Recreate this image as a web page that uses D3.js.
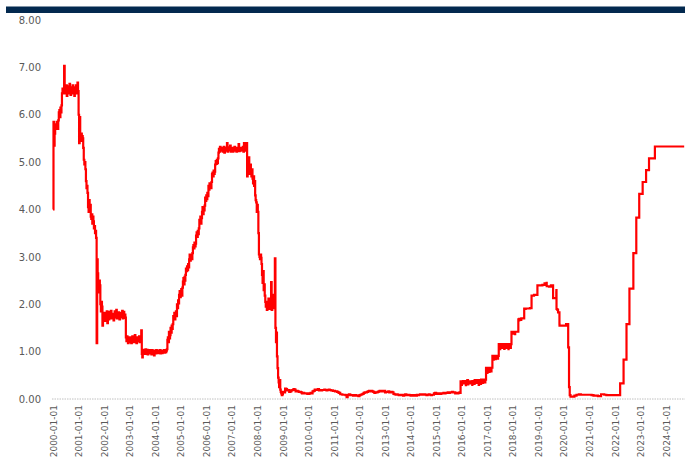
<!DOCTYPE html>
<html>
<head>
<meta charset="utf-8">
<script src="https://cdn.jsdelivr.net/npm/d3@7"></script>
<style>
  html, body { margin: 0; padding: 0; background: #ffffff; }
  svg { display: block; }
</style>
</head>
<body>
<svg id="chart" width="685" height="457"></svg>
<script>
// Effective federal funds rate (%), 2000 – 2024

const yTickValues = [0, 1, 2, 3, 4, 5, 6, 7, 8];
const xTickLabels = [
  "2000-01-01", "2001-01-01", "2002-01-01", "2003-01-01", "2004-01-01",
  "2005-01-01", "2006-01-01", "2007-01-01", "2008-01-01", "2009-01-01",
  "2010-01-01", "2011-01-01", "2012-01-01", "2013-01-01", "2014-01-01",
  "2015-01-01", "2016-01-01", "2017-01-01", "2018-01-01", "2019-01-01",
  "2020-01-01", "2021-01-01", "2022-01-01", "2023-01-01", "2024-01-01"
];

// Weekly readings (days 1, 8, 16, 24 of each month), 2000 – 2008
const weekDays = [1, 8, 16, 24];
const rates2000 = [
  4.00, 5.85, 5.35, 5.60,  5.70, 5.80, 5.72, 5.85,  5.78, 5.70, 5.88, 6.05,
  6.10, 5.95, 6.15, 6.05,  6.20, 6.45, 6.55, 6.50,  6.55, 7.03, 6.45, 6.60,
  6.50, 6.62, 6.40, 6.55,  6.48, 6.60, 6.45, 6.65,  6.50, 6.42, 6.58, 6.52,
  6.45, 6.62, 6.50, 6.55,  6.40, 6.58, 6.52, 6.62,  6.45, 6.55, 6.68, 6.50
];
const rates2001 = [
  6.00, 5.40, 5.95, 5.55,  5.50, 5.60, 5.45, 5.55,  5.50, 5.30, 5.05, 4.95,
  5.00, 4.85, 4.60, 4.45,  4.50, 4.35, 4.05, 3.95,  4.20, 3.95, 4.10, 3.85,
  3.80, 3.90, 3.70, 3.85,  3.75, 3.60, 3.65, 3.50,  3.55, 3.40, 1.18, 2.95,
  2.65, 2.45, 2.25, 2.50,  2.40, 2.00, 1.85, 2.05,  1.95, 1.55, 1.80, 1.70
];
const rates2002 = [
  1.70, 1.82, 1.65, 1.78,  1.74, 1.85, 1.60, 1.76,  1.80, 1.68, 1.84, 1.72,
  1.75, 1.86, 1.70, 1.78,  1.72, 1.80, 1.66, 1.77,  1.85, 1.72, 1.78, 1.88,
  1.70, 1.80, 1.74, 1.83,  1.75, 1.68, 1.82, 1.74,  1.80, 1.73, 1.86, 1.70,
  1.76, 1.84, 1.71, 1.78,  1.72, 1.30, 1.22, 1.32,  1.25, 1.18, 1.30, 1.22
];
const rates2003 = [
  1.30, 1.20, 1.28, 1.18,  1.26, 1.32, 1.22, 1.30,  1.20, 1.28, 1.35, 1.22,
  1.26, 1.18, 1.30, 1.24,  1.28, 1.22, 1.32, 1.20,  1.25, 1.30, 1.45, 0.95,
  0.88, 1.02, 0.95, 1.04,  1.02, 0.95, 1.05, 0.97,  1.00, 1.04, 0.94, 1.02,
  0.98, 1.03, 0.96, 1.01,  1.00, 0.94, 1.03, 0.99,  0.97, 1.02, 0.92, 1.00
];
const rates2004 = [
  1.00, 0.96, 1.03, 0.98,  1.01, 0.97, 1.02, 0.99,  0.98, 1.03, 0.96, 1.00,
  1.02, 0.97, 1.01, 0.99,  1.00, 1.03, 0.98, 1.02,  0.99, 1.02, 1.05, 1.25,
  1.30, 1.20, 1.42, 1.28,  1.35, 1.50, 1.40, 1.55,  1.48, 1.58, 1.75, 1.70,
  1.82, 1.68, 1.78, 1.85,  1.75, 2.00, 1.92, 2.08,  2.02, 2.20, 2.28, 2.15
];
const rates2005 = [
  2.25, 2.32, 2.18, 2.35,  2.48, 2.55, 2.42, 2.58,  2.50, 2.62, 2.75, 2.70,
  2.80, 2.72, 2.85, 2.78,  2.95, 3.05, 2.92, 3.02,  3.00, 2.95, 3.08, 3.20,
  3.25, 3.18, 3.30, 3.22,  3.28, 3.45, 3.52, 3.42,  3.55, 3.48, 3.60, 3.78,
  3.75, 3.85, 3.70, 3.82,  3.95, 4.05, 3.90, 4.02,  3.98, 4.08, 4.25, 4.18
];
const rates2006 = [
  4.30, 4.22, 4.35, 4.28,  4.50, 4.42, 4.55, 4.48,  4.52, 4.45, 4.58, 4.75,
  4.78, 4.70, 4.82, 4.75,  4.80, 4.95, 5.02, 4.96,  5.05, 4.98, 5.08, 5.20,
  5.28, 5.22, 5.32, 5.25,  5.30, 5.24, 5.28, 5.22,  5.26, 5.32, 5.20, 5.28,
  5.24, 5.30, 5.26, 5.40,  5.22, 5.28, 5.25, 5.31,  5.27, 5.35, 5.22, 5.29
];
const rates2007 = [
  5.25, 5.30, 5.22, 5.28,  5.26, 5.32, 5.24, 5.27,  5.30, 5.22, 5.28, 5.25,
  5.27, 5.38, 5.23, 5.29,  5.24, 5.30, 5.26, 5.28,  5.25, 5.32, 5.22, 5.40,
  5.26, 5.29, 5.24, 5.30,  5.40, 4.70, 5.05, 4.95,  5.10, 4.85, 4.75, 4.95,
  4.80, 4.70, 4.85, 4.65,  4.55, 4.70, 4.50, 4.60,  4.30, 4.20, 4.15, 3.95
];
const rates2008 = [
  4.10, 3.95, 3.50, 3.05,  3.00, 2.95, 3.05, 2.98,  2.85, 2.62, 2.45, 2.70,
  2.30, 2.42, 2.18, 2.05,  1.95, 2.05, 1.88, 2.00,  1.92, 2.12, 1.98, 1.90,
  2.05, 1.95, 2.47, 1.88,  1.98, 2.20, 1.92, 2.02,  2.00, 2.97, 1.50, 1.20,
  1.40, 0.90, 0.65, 0.45,  0.35, 0.25, 0.40, 0.20,  0.15, 0.12, 0.08, 0.10
];

// Semi-monthly readings (days 1 and 16), 2009 – 2015
const halfMonthDays = [1, 16];
const rates2009 = [
  0.15, 0.14, 0.22, 0.21, 0.18, 0.19, 0.15, 0.16, 0.18, 0.19, 0.21, 0.20,
  0.16, 0.17, 0.16, 0.15, 0.15, 0.14, 0.12, 0.13, 0.12, 0.12, 0.12, 0.11
];
const rates2010 = [
  0.11, 0.12, 0.13, 0.12, 0.16, 0.17, 0.20, 0.19, 0.20, 0.21, 0.18, 0.19,
  0.18, 0.19, 0.19, 0.20, 0.19, 0.18, 0.19, 0.20, 0.19, 0.18, 0.18, 0.17
];
const rates2011 = [
  0.17, 0.16, 0.16, 0.15, 0.14, 0.13, 0.10, 0.10, 0.09, 0.09, 0.09, 0.08,
  0.04, 0.08, 0.10, 0.09, 0.08, 0.08, 0.07, 0.08, 0.08, 0.07, 0.07, 0.06
];
const rates2012 = [
  0.08, 0.09, 0.10, 0.11, 0.13, 0.14, 0.14, 0.15, 0.16, 0.17, 0.16, 0.17,
  0.16, 0.15, 0.13, 0.14, 0.14, 0.15, 0.16, 0.17, 0.16, 0.17, 0.16, 0.17
];
const rates2013 = [
  0.14, 0.15, 0.15, 0.16, 0.14, 0.15, 0.15, 0.14, 0.11, 0.10, 0.09, 0.10,
  0.09, 0.08, 0.08, 0.09, 0.08, 0.07, 0.09, 0.10, 0.08, 0.09, 0.09, 0.08
];
const rates2014 = [
  0.07, 0.08, 0.07, 0.07, 0.08, 0.07, 0.09, 0.08, 0.09, 0.10, 0.10, 0.09,
  0.09, 0.10, 0.09, 0.08, 0.09, 0.10, 0.09, 0.08, 0.09, 0.09, 0.12, 0.13
];
const rates2015 = [
  0.11, 0.12, 0.11, 0.12, 0.11, 0.12, 0.12, 0.13, 0.12, 0.13, 0.13, 0.14,
  0.13, 0.14, 0.14, 0.15, 0.14, 0.14, 0.12, 0.13, 0.12, 0.13, 0.14, 0.13
];

// Dated readings from the December 2015 lift-off onward
const rateChanges = [
  ["2015-12-17", 0.37],
  ["2016-01-01", 0.30], ["2016-01-05", 0.36], ["2016-01-20", 0.38],
  ["2016-02-01", 0.33], ["2016-02-08", 0.38], ["2016-02-24", 0.36],
  ["2016-03-01", 0.29], ["2016-03-04", 0.37], ["2016-03-22", 0.40],
  ["2016-04-01", 0.31], ["2016-04-05", 0.37], ["2016-05-02", 0.33], ["2016-05-04", 0.37],
  ["2016-06-01", 0.30], ["2016-06-03", 0.38], ["2016-07-01", 0.32], ["2016-07-05", 0.40],
  ["2016-08-01", 0.34], ["2016-08-03", 0.40], ["2016-09-01", 0.30], ["2016-09-06", 0.40],
  ["2016-10-03", 0.32], ["2016-10-05", 0.41], ["2016-11-01", 0.34], ["2016-11-03", 0.41],
  ["2016-12-01", 0.35], ["2016-12-05", 0.41],
  ["2016-12-15", 0.66], ["2017-01-03", 0.55], ["2017-01-05", 0.66],
  ["2017-02-01", 0.57], ["2017-02-03", 0.66], ["2017-03-01", 0.58], ["2017-03-03", 0.66],
  ["2017-03-16", 0.91], ["2017-04-03", 0.83], ["2017-04-05", 0.91],
  ["2017-05-01", 0.84], ["2017-05-03", 0.91], ["2017-06-01", 0.85], ["2017-06-05", 0.91],
  ["2017-06-15", 1.16], ["2017-07-03", 1.05], ["2017-07-06", 1.16],
  ["2017-08-01", 1.08], ["2017-08-03", 1.16], ["2017-09-01", 1.06], ["2017-09-06", 1.16],
  ["2017-10-02", 1.08], ["2017-10-04", 1.16], ["2017-11-01", 1.05], ["2017-11-03", 1.16],
  ["2017-12-01", 1.08], ["2017-12-05", 1.16],
  ["2017-12-14", 1.42], ["2018-01-02", 1.38], ["2018-01-04", 1.42],
  ["2018-02-01", 1.37], ["2018-02-05", 1.42],
  ["2018-03-22", 1.68], ["2018-04-02", 1.66], ["2018-04-04", 1.69],
  ["2018-05-01", 1.67], ["2018-05-03", 1.70],
  ["2018-06-14", 1.91], ["2018-07-02", 1.90], ["2018-07-05", 1.91],
  ["2018-08-01", 1.91], ["2018-09-04", 1.92],
  ["2018-09-27", 2.18], ["2018-11-01", 2.20], ["2018-12-03", 2.20],
  ["2018-12-20", 2.40], ["2019-03-01", 2.41], ["2019-04-01", 2.44], ["2019-04-15", 2.42],
  ["2019-05-01", 2.45], ["2019-05-02", 2.38], ["2019-06-03", 2.37], ["2019-07-01", 2.40],
  ["2019-08-01", 2.13], ["2019-09-16", 2.25], ["2019-09-17", 2.30], ["2019-09-19", 1.90],
  ["2019-10-01", 1.88], ["2019-10-11", 1.83], ["2019-10-31", 1.58], ["2019-11-01", 1.55],
  ["2020-02-03", 1.58],
  ["2020-03-04", 1.09], ["2020-03-16", 0.25], ["2020-03-26", 0.08], ["2020-04-06", 0.05],
  ["2020-06-01", 0.07], ["2020-07-01", 0.09], ["2020-08-03", 0.10], ["2020-09-01", 0.09],
  ["2021-02-01", 0.08], ["2021-03-01", 0.07], ["2021-05-03", 0.06],
  ["2021-06-17", 0.10], ["2021-08-02", 0.09], ["2021-09-01", 0.08],
  ["2022-03-17", 0.33], ["2022-05-05", 0.83], ["2022-06-16", 1.58], ["2022-07-28", 2.33],
  ["2022-09-22", 3.08], ["2022-11-03", 3.83], ["2022-12-15", 4.33],
  ["2023-02-02", 4.58], ["2023-03-23", 4.83], ["2023-05-04", 5.08], ["2023-07-27", 5.33],
  ["2024-09-18", 5.33]
];

const weeklySeries = [
  [2000, rates2000], [2001, rates2001], [2002, rates2002], [2003, rates2003], [2004, rates2004],
  [2005, rates2005], [2006, rates2006], [2007, rates2007], [2008, rates2008]
];
const semiMonthlySeries = [
  [2009, rates2009], [2010, rates2010], [2011, rates2011], [2012, rates2012],
  [2013, rates2013], [2014, rates2014], [2015, rates2015]
];

const parseDate = d3.timeParse("%Y-%m-%d");
const points = [];
weeklySeries.forEach(([yr, vals]) => {
  vals.forEach((v, i) => points.push({ date: new Date(yr, Math.floor(i / 4), weekDays[i % 4]), value: v }));
});
semiMonthlySeries.forEach(([yr, vals]) => {
  vals.forEach((v, i) => points.push({ date: new Date(yr, Math.floor(i / 2), halfMonthDays[i % 2]), value: v }));
});
rateChanges.forEach(([d, v]) => points.push({ date: parseDate(d), value: v }));
points.sort((a, b) => a.date - b.date);

// ---- layout ----
const svg = d3.select("#chart");
const W = 685, H = 457;

const x = d3.scaleTime()
  .domain([parseDate("2000-01-01"), parseDate("2024-10-01")])
  .range([53, 685.1]);
const y = d3.scaleLinear().domain([0, 8]).range([399, 20]);

// header band
svg.append("rect")
  .attr("x", 6).attr("y", 6.5).attr("width", W - 6).attr("height", 6.5)
  .attr("fill", "#03294f");

// y axis labels
const yAxis = d3.axisLeft(y)
  .tickValues(yTickValues)
  .tickFormat(d3.format(".2f"))
  .tickSize(0)
  .tickPadding(0);
const gy = svg.append("g").attr("transform", "translate(41,0)").call(yAxis);
gy.select(".domain").remove();
gy.selectAll("text")
  .attr("fill", "#595959")
  .style("font-family", "'DejaVu Sans', Verdana, sans-serif")
  .style("font-size", "10px");

// x axis: dotted baseline and rotated date labels
const xAxis = d3.axisBottom(x)
  .tickValues(xTickLabels.map(parseDate))
  .tickFormat(d3.timeFormat("%Y-%m-%d"))
  .tickSize(0)
  .tickPadding(0);
const gx = svg.append("g").attr("transform", `translate(0,${y(0)})`).call(xAxis);
gx.select(".domain").remove();
gx.selectAll("text")
  .attr("fill", "#595959")
  .attr("text-anchor", "end")
  .attr("transform", "rotate(-90)")
  .attr("x", -6)
  .attr("y", 0)
  .attr("dy", "0.35em")
  .style("font-family", "'DejaVu Sans', Verdana, sans-serif")
  .style("font-size", "9px");
gx.selectAll(".tick").each(function () {
  const t = d3.select(this);
  const tr = t.attr("transform");
  t.attr("transform", tr);
});

svg.append("line")
  .attr("x1", 52).attr("x2", W)
  .attr("y1", y(0)).attr("y2", y(0))
  .attr("stroke", "#c0c0c0")
  .attr("stroke-width", 1)
  .attr("stroke-dasharray", "1.5,1");

// rate line
const line = d3.line()
  .x(d => x(d.date))
  .y(d => y(d.value))
  .curve(d3.curveStepAfter);

svg.append("path")
  .datum(points)
  .attr("fill", "none")
  .attr("stroke", "#ff0000")
  .attr("stroke-width", 2.2)
  .attr("stroke-linejoin", "miter")
  .attr("d", line);
</script>
</body>
</html>
